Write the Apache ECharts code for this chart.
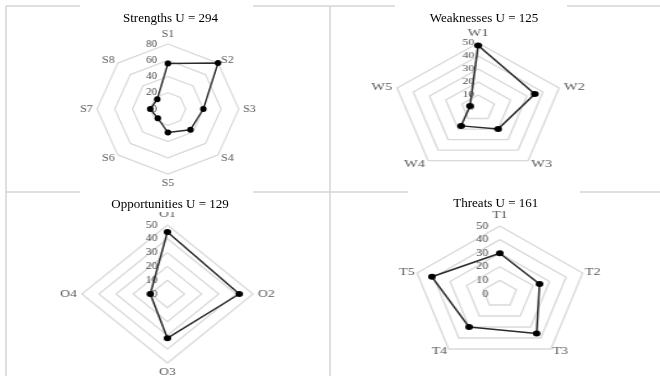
<!DOCTYPE html>
<html><head><meta charset="utf-8">
<script src="https://cdn.jsdelivr.net/npm/echarts@6/dist/echarts.min.js"></script>
<style>
html,body{margin:0;padding:0;background:#fff;width:660px;height:376px;overflow:hidden;position:relative;}
.chart{position:absolute;transform-origin:0 0;width:220px;height:180px;}
#overlay{position:absolute;left:0;top:0;width:660px;height:376px;pointer-events:none;}
</style></head><body>
<div id="c0" class="chart"></div>
<div id="c1" class="chart"></div>
<div id="c2" class="chart"></div>
<div id="c3" class="chart"></div>
<div id="overlay"></div>
<script>
// ---- data ----
const strengthCategories = ['S1','S2','S3','S4','S5','S6','S7','S8'];
const strengthValues = [56, 80, 40, 36, 29, 16, 20, 17];
const weaknessCategories = ['W1','W2','W3','W4','W5'];
const weaknessValues = [48, 35, 20, 17, 5];
const opportunityCategories = ['O1','O2','O3','O4'];
const opportunityValues = [45, 42, 32, 10];
const threatCategories = ['T1','T2','T3','T4','T5'];
const threatValues = [30, 24, 36, 30, 41];
const axisMax = [80, 50, 50, 50];
const axisStep = [20, 10, 10, 10];
const titles = ['Strengths U = 294','Weaknesses U = 125','Opportunities U = 129','Threats U = 161'];

// ---- layout ----
const W = 220, H = 180;
const panels = [
  {id:'c0', cats:strengthCategories, vals:strengthValues, cx:168.3, cy:108.7, r:65, k:1.09, margin:10, fs:10, gap:4},
  {id:'c1', cats:weaknessCategories, vals:weaknessValues, cx:477.7, cy:108.3, r:65, k:1.31, margin:3, fs:9, gap:4},
  {id:'c2', cats:opportunityCategories, vals:opportunityValues, cx:167.7, cy:294.3, r:69, k:1.24, margin:8, fs:9.5, gap:4},
  {id:'c3', cats:threatCategories, vals:threatValues, cx:499.3, cy:294.3, r:68, k:1.28, margin:9, fs:9.5, gap:2}
];
const serif = 'Liberation Serif, Times New Roman, serif';

panels.forEach(function (p, idx) {
  const el = document.getElementById(p.id);
  el.style.left = (p.cx - p.k * W / 2) + 'px';
  el.style.top = (p.cy - H / 2) + 'px';
  el.style.transform = 'scaleX(' + p.k + ')';
  const n = p.cats.length;
  // ECharts places indicators counter-clockwise; reorder so they run clockwise
  const order = [0];
  for (let i = n - 1; i >= 1; i--) order.push(i);
  const indicator = order.map(function (i, j) {
    const ind = {name: p.cats[i], min: 0, max: axisMax[idx]};
    if (j === 0) ind.axisLabel = {show: true};
    return ind;
  });
  const chart = echarts.init(el, null, {renderer: 'canvas'});
  chart.setOption({
    animation: false,
    backgroundColor: 'transparent',
    radar: {
      center: ['50%', '50%'],
      radius: p.r,
      startAngle: 90,
      shape: 'polygon',
      splitNumber: axisMax[idx] / axisStep[idx],
      indicator: indicator,
      axisName: {color: '#595959', fontFamily: serif, fontSize: 11},
      nameGap: p.gap,
      axisLine: {show: false},
      axisTick: {show: false},
      axisLabel: {show: false, color: '#4a4a4a', fontFamily: serif, fontSize: p.fs, margin: p.margin},
      splitLine: {lineStyle: {color: '#d9d9d9', width: 1.3}},
      splitArea: {show: false}
    },
    series: [{
      type: 'radar',
      symbol: 'circle',
      symbolSize: 6,
      itemStyle: {color: '#000'},
      lineStyle: {color: '#2b2b2b', width: 1.5},
      data: [{value: order.map(function (i) { return p.vals[i]; })}]
    }]
  });
});

// ---- overlay: titles and table borders ----
const titlePos = [[167.5, 11], [481, 11], [167, 197], [492.8, 196.5]];
const titleBg = [false, false, true, false];
const segs = [[6,6,6,376],[330,6,330,376],[6,6,80,6],[253,6,395,6],[567,6,660,6],
              [6,192,80,192],[253,192,408,192],[580,192,660,192]];
const overlayChart = echarts.init(document.getElementById('overlay'));
overlayChart.setOption({
  animation: false,
  backgroundColor: 'transparent',
  title: titles.map(function (t, i) {
    return {text: t, left: titlePos[i][0], top: titlePos[i][1], textAlign: 'center',
      padding: [1, 3], backgroundColor: titleBg[i] ? '#fff' : 'transparent',
      textStyle: {fontFamily: serif, fontSize: 13, fontWeight: 'normal', color: '#000'}};
  }),
  graphic: segs.map(function (s) {
    return {type: 'line', shape: {x1: s[0], y1: s[1], x2: s[2], y2: s[3]},
      style: {stroke: '#d4d4d4', lineWidth: 1.5}, silent: true};
  })
});
</script>
</body></html>
